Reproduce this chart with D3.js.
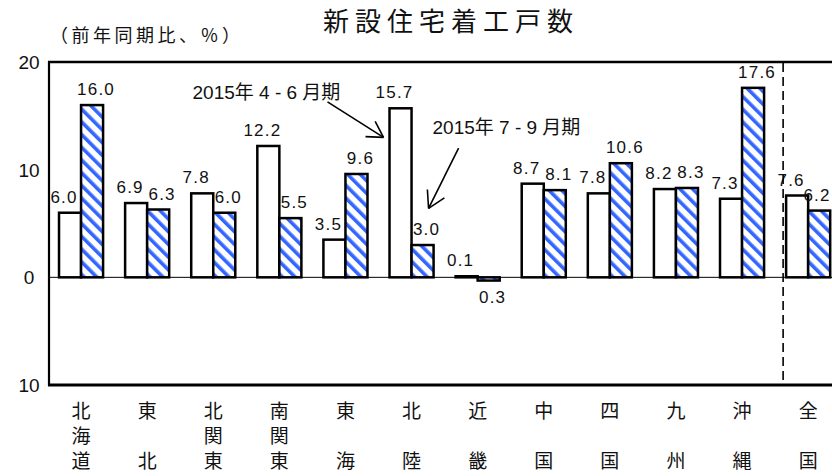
<!DOCTYPE html>
<html>
<head>
<meta charset="utf-8">
<script src="https://cdn.jsdelivr.net/npm/d3@7"></script>
<style>
  html, body { margin: 0; padding: 0; background: #fff; }
  svg { display: block; }
</style>
</head>
<body>
<div id="chart"></div>
<script>
// ---- data ----
const categories = ["北海道", "東北", "北関東", "南関東", "東海", "北陸", "近畿", "中国", "四国", "九州", "沖縄", "全国"];
const seriesNames = ["2015年 4 - 6 月期", "2015年 7 - 9 月期"];
const q2Values = [6.0, 6.9, 7.8, 12.2, 3.5, 15.7, 0.1, 8.7, 7.8, 8.2, 7.3, 7.6];
const q3Values = [16.0, 6.3, 6.0, 5.5, 9.6, 3.0, -0.3, 8.1, 10.6, 8.3, 17.6, 6.2];
const yTickValues = [-10, 0, 10, 20];
const yTickLabels = ["10", "0", "10", "20"];
const titleText = "新設住宅着工戸数";
const unitText = "（前年同期比、％）";

// ---- layout ----
const W = 832, H = 476;
const plotLeft = 49, plotTop = 62, plotBottom = 385;
const step = 66.1;
const latin = "'Liberation Sans', Arial, 'Noto Sans CJK JP', sans-serif";
const cjk = "'Noto Sans CJK JP', 'Noto Sans CJK SC', sans-serif";
const blue = "#3366ff";

const svg = d3.select("#chart").append("svg")
  .attr("width", W).attr("height", H)
  .attr("viewBox", `0 0 ${W} ${H}`);

const defs = svg.append("defs");
const pat = defs.append("pattern")
  .attr("id", "hatch")
  .attr("patternUnits", "userSpaceOnUse")
  .attr("width", 9).attr("height", 9)
  .attr("patternTransform", "rotate(-45)");
pat.append("rect").attr("width", 9).attr("height", 9).attr("fill", "#fff");
pat.append("rect").attr("x", 0).attr("width", 3.6).attr("height", 9).attr("fill", blue);

const x0 = d3.scaleBand()
  .domain(categories)
  .range([48, 48 + step * categories.length])
  .paddingInner(1 / 3)
  .paddingOuter(1 / 6);
const x1 = d3.scaleBand().domain([0, 1]).range([0, x0.bandwidth()]);
const y = d3.scaleLinear().domain([-10, 20]).range([plotBottom, plotTop]);

// ---- title ----
svg.append("text")
  .attr("x", 451).attr("y", 31)
  .attr("text-anchor", "middle")
  .attr("font-family", cjk).attr("font-size", 26)
  .attr("letter-spacing", 6)
  .attr("fill", "#111")
  .text(titleText);

svg.append("text")
  .attr("x", 50).attr("y", 42)
  .attr("font-family", cjk).attr("font-size", 18)
  .attr("letter-spacing", 3.5)
  .attr("fill", "#111")
  .text(unitText);

// ---- y tick labels ----
svg.append("g").selectAll("text")
  .data(yTickValues)
  .join("text")
  .attr("x", 29)
  .attr("y", d => y(d))
  .attr("dy", "0.36em")
  .attr("text-anchor", "middle")
  .attr("font-family", latin).attr("font-size", 19)
  .attr("fill", "#111")
  .text((d, i) => yTickLabels[i]);

// ---- bars ----
const rows = categories.map((c, i) => ({ cat: c, vals: [q2Values[i], q3Values[i]] }));
const groups = svg.append("g").selectAll("g")
  .data(rows)
  .join("g")
  .attr("transform", d => `translate(${x0(d.cat)},0)`);

groups.selectAll("rect")
  .data(d => d.vals.map((v, k) => ({ v, k })))
  .join("rect")
  .attr("x", d => x1(d.k))
  .attr("width", x1.bandwidth())
  .attr("y", d => Math.min(y(d.v), y(0)))
  .attr("height", d => Math.max(1, Math.abs(y(d.v) - y(0))))
  .attr("fill", d => d.k === 0 ? "#fff" : "url(#hatch)")
  .attr("stroke", "#000")
  .attr("stroke-width", 2.5);

// ---- value labels ----
const fmt = d3.format(".1f");
const labelHalf = 14;
groups.selectAll("text")
  .data(d => d.vals.map((v, k) => ({ v, k, gx: x0(d.cat) })))
  .join("text")
  .attr("x", d => {
    let cx = x1(d.k) + x1.bandwidth() / 2 + (d.k === 0 ? -6 : 4);
    const maxCx = W - 1 - labelHalf - d.gx;
    return Math.min(cx, maxCx);
  })
  .attr("y", d => d.v >= 0 ? y(d.v) - 10 : y(d.v) + 22)
  .attr("text-anchor", "middle")
  .attr("font-family", latin).attr("font-size", 17)
  .attr("letter-spacing", 1.2)
  .attr("fill", "#111")
  .text(d => fmt(Math.abs(d.v)));

// ---- zero line ----
svg.append("line")
  .attr("x1", plotLeft).attr("x2", W)
  .attr("y1", y(0)).attr("y2", y(0))
  .attr("stroke", "#000").attr("stroke-width", 1);

// ---- frame ----
svg.append("line")
  .attr("x1", plotLeft).attr("x2", plotLeft)
  .attr("y1", plotTop - 1).attr("y2", plotBottom + 1)
  .attr("stroke", "#000").attr("stroke-width", 2.2);
svg.append("line")
  .attr("x1", plotLeft - 1).attr("x2", W)
  .attr("y1", plotTop).attr("y2", plotTop)
  .attr("stroke", "#000").attr("stroke-width", 2.5);
svg.append("line")
  .attr("x1", plotLeft - 1).attr("x2", W)
  .attr("y1", plotBottom).attr("y2", plotBottom)
  .attr("stroke", "#000").attr("stroke-width", 3);

// ---- dashed separator before 全国 ----
const sepX = x0("全国") - 3;
svg.append("line")
  .attr("x1", sepX).attr("x2", sepX)
  .attr("y1", plotTop + 1).attr("y2", plotBottom - 5)
  .attr("stroke", "#000").attr("stroke-width", 1.6)
  .attr("stroke-dasharray", "9,5");

// ---- category labels (vertical) ----
const rowY = [411, 436, 461];
const catG = svg.append("g").selectAll("g")
  .data(categories)
  .join("g")
  .attr("transform", d => `translate(${x0(d) + x0.bandwidth() / 2},0)`);
catG.selectAll("text")
  .data(d => {
    const ch = Array.from(d);
    return ch.length === 2 ? [{ c: ch[0], r: 0 }, { c: ch[1], r: 2 }] : ch.map((c, r) => ({ c, r }));
  })
  .join("text")
  .attr("x", 0)
  .attr("y", d => rowY[d.r])
  .attr("dy", "0.36em")
  .attr("text-anchor", "middle")
  .attr("font-family", cjk).attr("font-size", 19)
  .attr("fill", "#111")
  .text(d => d.c);

// ---- annotations ----
function arrow(xa, ya, xb, yb, len, ang) {
  const g = svg.append("g").attr("stroke", "#000").attr("stroke-width", 1.6).attr("fill", "none");
  g.append("line").attr("x1", xa).attr("y1", ya).attr("x2", xb).attr("y2", yb);
  const a = Math.atan2(ya - yb, xa - xb);
  [-ang, ang].forEach(da => {
    g.append("line")
      .attr("x1", xb).attr("y1", yb)
      .attr("x2", xb + len * Math.cos(a + da))
      .attr("y2", yb + len * Math.sin(a + da));
  });
}
const hokX = x0("北陸");
const hokHatchC = hokX + x1(1) + x1.bandwidth() / 2;

svg.append("text")
  .attr("x", hokX - 197).attr("y", y(16.6))
  .attr("font-family", latin).attr("font-size", 19)
  .attr("fill", "#111")
  .text(seriesNames[0]);
arrow(hokX - 62, y(16.3), hokX - 6, y(13.0), 18, Math.PI / 6);

svg.append("text")
  .attr("x", hokX + 43).attr("y", y(13.3))
  .attr("font-family", latin).attr("font-size", 19)
  .attr("fill", "#111")
  .text(seriesNames[1]);
arrow(hokHatchC + 36, y(12.0), hokHatchC + 6, y(6.4), 19, Math.PI / 6);
</script>
</body>
</html>
